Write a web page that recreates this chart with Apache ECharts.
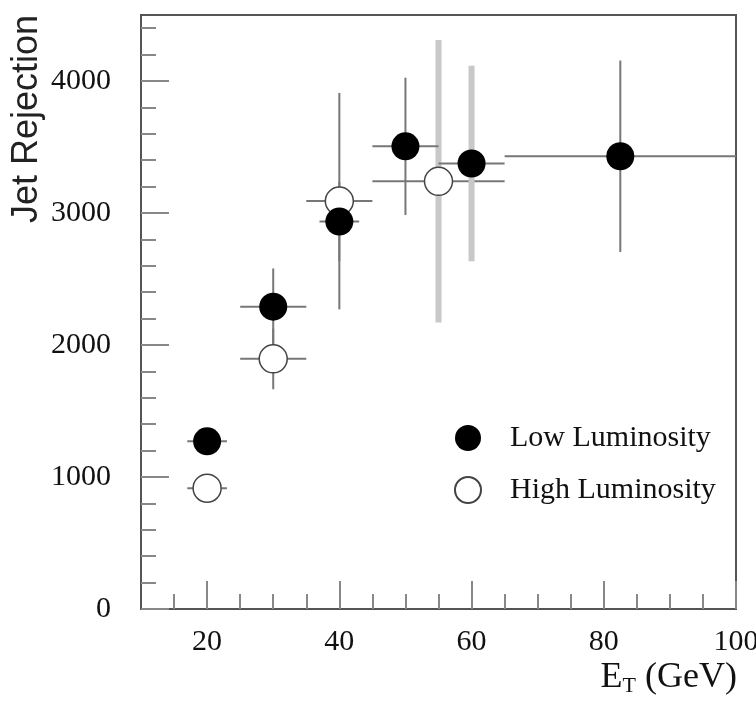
<!DOCTYPE html>
<html><head><meta charset="utf-8">
<script src="https://cdn.jsdelivr.net/npm/echarts@6/dist/echarts.min.js"></script>
<style>html,body{margin:0;padding:0;background:#fff}#c{width:756px;height:704px}</style>
</head><body><div id="c"></div>
<script>
// Low luminosity (filled circles)
const lowX = [20, 30, 40, 50, 60, 82.5];
const lowY = [1270, 2290, 2935, 3505, 3375, 3430];
const lowXErr = [3, 5, 3, 5, 5, 17.5];
const lowYErr = [100, 290, 300, 520, 740, 725];
const lowWideErr = [0, 0, 0, 0, 1, 0];
// High luminosity (open circles)
const highX = [20, 30, 40, 55];
const highY = [915, 1895, 3090, 3240];
const highXErr = [3, 5, 5, 10];
const highYErr = [100, 230, 820, 1070];
const highWideErr = [0, 0, 0, 1];
// Axis ticks
const xMajorTicks = [20, 40, 60, 80, 100];
const xMinorTicks = [15, 25, 30, 35, 45, 50, 55, 65, 70, 75, 85, 90, 95];
const yMajorTicks = [0, 1000, 2000, 3000, 4000];
const yMinorTicks = [200, 400, 600, 800, 1200, 1400, 1600, 1800, 2200, 2400, 2600, 2800, 3200, 3400, 3600, 3800, 4200, 4400];

const serif = 'Liberation Serif';
function pts(xs, ys, xe, ye) { return xs.map((x, i) => [x, ys[i], xe[i], ye[i]]); }
function makeRender(wide) {
  return function (params, api) {
    const x = api.value(0), y = api.value(1), xe = api.value(2), ye = api.value(3);
    const l = api.coord([x - xe, y]), r = api.coord([x + xe, y]);
    const t = api.coord([x, y + ye]), b = api.coord([x, y - ye]);
    const thin = { stroke: '#777', lineWidth: 2 };
    const v = wide[params.dataIndex] ? { stroke: '#c8c8c8', lineWidth: 6 } : thin;
    return { type: 'group', children: [
      { type: 'line', shape: { x1: t[0], y1: t[1], x2: b[0], y2: b[1] }, style: v },
      { type: 'line', shape: { x1: l[0], y1: l[1], x2: r[0], y2: r[1] }, style: thin }
    ] };
  };
}
const chart = echarts.init(document.getElementById('c'));
const tickStyle = { color: '#888', width: 2 };
chart.setOption({
  animation: false,
  backgroundColor: '#fff',
  grid: { left: 141, right: 20, top: 15, bottom: 95, show: true, borderColor: '#555', borderWidth: 2, outerBoundsMode: 'none', containLabel: false },
  xAxis: [
    { type: 'value', min: 10, max: 100, position: 'bottom',
      axisLine: { lineStyle: { color: '#555', width: 2 } },
      axisTick: { inside: true, length: 28, customValues: xMajorTicks, lineStyle: tickStyle },
      axisLabel: { customValues: xMajorTicks, margin: 18, fontFamily: serif, fontSize: 30, color: '#111', formatter: v => String(v) },
      splitLine: { show: false } },
    { type: 'value', min: 10, max: 100, position: 'bottom',
      axisLine: { show: false },
      axisTick: { inside: true, length: 15, customValues: xMinorTicks, lineStyle: tickStyle },
      axisLabel: { show: false }, splitLine: { show: false } }
  ],
  yAxis: [
    { type: 'value', min: 0, max: 4500, position: 'left',
      axisLine: { show: true, lineStyle: { color: '#555', width: 2 } },
      axisTick: { show: true, inside: true, length: 28, customValues: yMajorTicks, lineStyle: tickStyle },
      axisLabel: { customValues: yMajorTicks, margin: 30, fontFamily: serif, fontSize: 30, color: '#111', formatter: v => String(v) },
      splitLine: { show: false } },
    { type: 'value', min: 0, max: 4500, position: 'left',
      axisLine: { show: false },
      axisTick: { show: true, inside: true, length: 15, customValues: yMinorTicks, lineStyle: tickStyle },
      axisLabel: { show: false }, splitLine: { show: false } }
  ],
  legend: {
    data: ['Low Luminosity', 'High Luminosity'],
    orient: 'vertical', left: 449, top: 418,
    itemWidth: 74, itemHeight: 26, itemGap: 22,
    textStyle: { fontFamily: serif, fontSize: 30, color: '#111', lineHeight: 26 }
  },
  graphic: [
    { type: 'text', x: 27, y: 119, rotation: Math.PI / 2,
      style: { text: 'Jet Rejection', fontFamily: 'Liberation Sans', fontSize: 36, fill: '#222', align: 'center', verticalAlign: 'middle' } },
    { type: 'text', right: 19, top: 660,
      style: { text: '{e|E}{t|T}{g| (GeV)}', fill: '#111',
        rich: { e: { fontFamily: serif, fontSize: 36 }, t: { fontFamily: serif, fontSize: 22, padding: [16, 0, 0, 0] }, g: { fontFamily: serif, fontSize: 36 } } } }
  ],
  series: [
    { type: 'custom', name: 'errHigh', xAxisIndex: 0, yAxisIndex: 0, z: 1, silent: true,
      renderItem: makeRender(highWideErr), encode: { x: 0, y: 1 }, data: pts(highX, highY, highXErr, highYErr) },
    { type: 'custom', name: 'errLow', xAxisIndex: 0, yAxisIndex: 0, z: 1, silent: true,
      renderItem: makeRender(lowWideErr), encode: { x: 0, y: 1 }, data: pts(lowX, lowY, lowXErr, lowYErr) },
    { type: 'scatter', name: 'High Luminosity', z: 2, symbol: 'circle', symbolSize: 28,
      itemStyle: { color: '#fff', borderColor: '#444', borderWidth: 1.5, opacity: 1 },
      data: highX.map((x, i) => [x, highY[i]]) },
    { type: 'scatter', name: 'Low Luminosity', z: 3, symbol: 'circle', symbolSize: 28,
      itemStyle: { color: '#000', opacity: 1 },
      data: lowX.map((x, i) => [x, lowY[i]]) }
  ]
});
</script></body></html>
